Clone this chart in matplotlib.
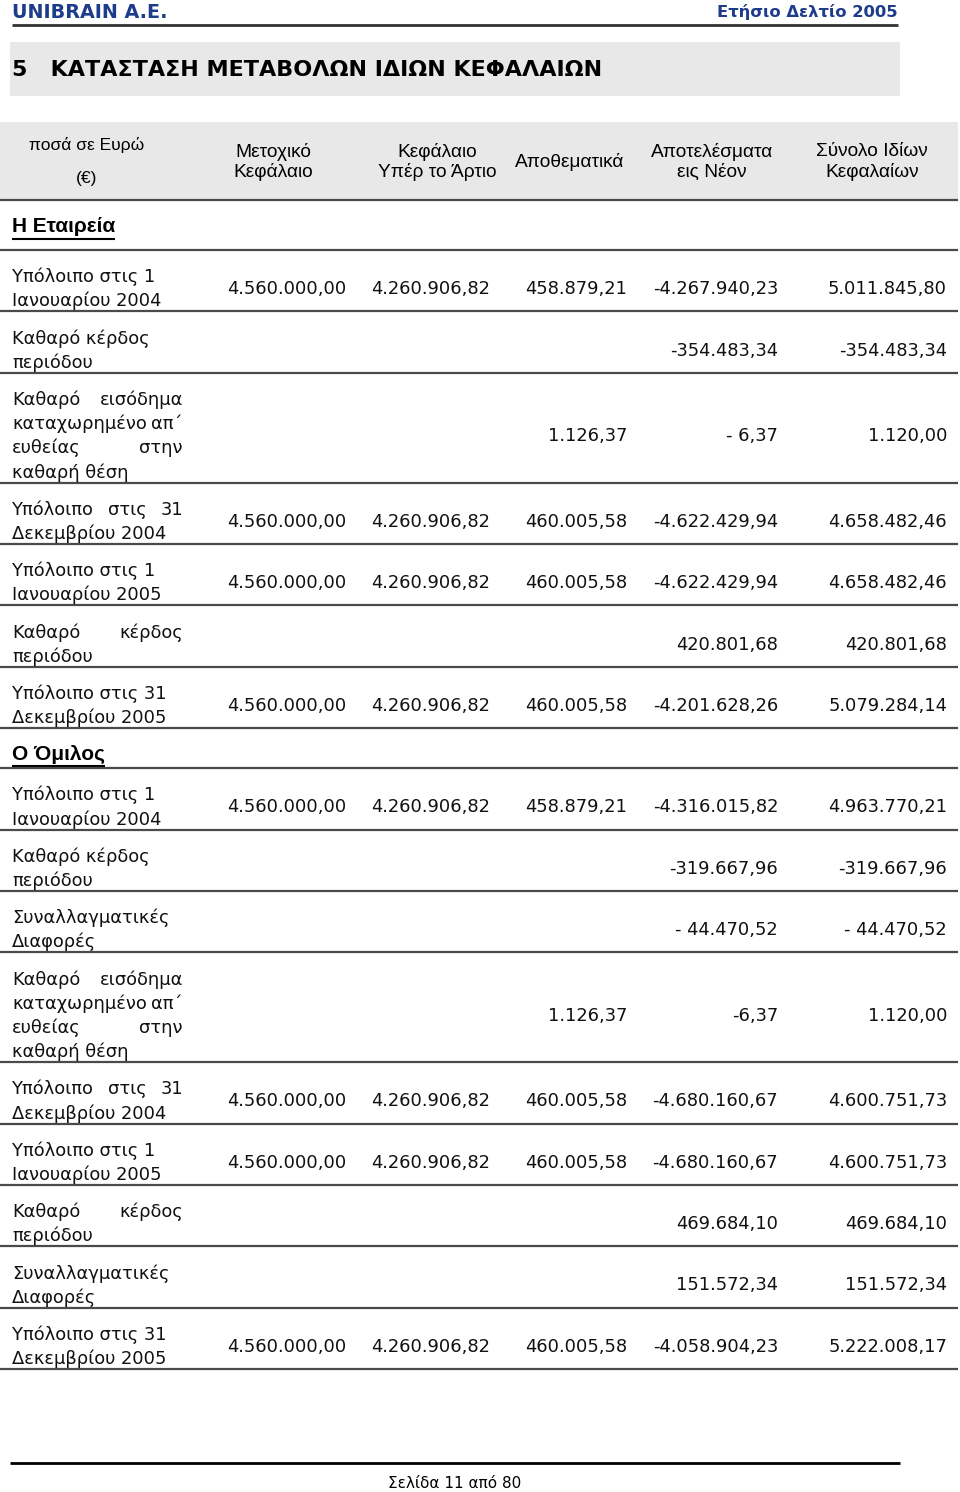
import matplotlib
matplotlib.use("Agg")
import matplotlib.pyplot as plt

# ---------------- data ----------------
col_headers = ["Μετοχικό\nΚεφάλαιο", "Κεφάλαιο\nΥπέρ το Άρτιο", "Αποθεματικά",
               "Αποτελέσματα\nεις Νέον", "Σύνολο Ιδίων\nΚεφαλαίων"]
corner_header = ["ποσά σε Ευρώ", "(€)"]

section_company = "Η Εταιρεία"
section_group = "Ο Όμιλος"

company_labels = [
    ["Υπόλοιπο στις 1", "Ιανουαρίου 2004"],
    ["Καθαρό κέρδος", "περιόδου"],
    ["Καθαρό εισόδημα", "καταχωρημένο απ΄", "ευθείας στην", "καθαρή θέση"],
    ["Υπόλοιπο στις 31", "Δεκεμβρίου 2004"],
    ["Υπόλοιπο στις 1", "Ιανουαρίου 2005"],
    ["Καθαρό κέρδος", "περιόδου"],
    ["Υπόλοιπο στις 31", "Δεκεμβρίου 2005"],
]
company_justify = [False, False, True, True, False, True, False]
company_share_capital = ["4.560.000,00", "", "", "4.560.000,00", "4.560.000,00", "", "4.560.000,00"]
company_share_premium = ["4.260.906,82", "", "", "4.260.906,82", "4.260.906,82", "", "4.260.906,82"]
company_reserves = ["458.879,21", "", "1.126,37", "460.005,58", "460.005,58", "", "460.005,58"]
company_retained = ["-4.267.940,23", "-354.483,34", "- 6,37", "-4.622.429,94", "-4.622.429,94",
                    "420.801,68", "-4.201.628,26"]
company_total = ["5.011.845,80", "-354.483,34", "1.120,00", "4.658.482,46", "4.658.482,46",
                 "420.801,68", "5.079.284,14"]

group_labels = [
    ["Υπόλοιπο στις 1", "Ιανουαρίου 2004"],
    ["Καθαρό κέρδος", "περιόδου"],
    ["Συναλλαγματικές", "Διαφορές"],
    ["Καθαρό εισόδημα", "καταχωρημένο απ΄", "ευθείας στην", "καθαρή θέση"],
    ["Υπόλοιπο στις 31", "Δεκεμβρίου 2004"],
    ["Υπόλοιπο στις 1", "Ιανουαρίου 2005"],
    ["Καθαρό κέρδος", "περιόδου"],
    ["Συναλλαγματικές", "Διαφορές"],
    ["Υπόλοιπο στις 31", "Δεκεμβρίου 2005"],
]
group_justify = [False, False, False, True, True, False, True, False, False]
group_share_capital = ["4.560.000,00", "", "", "", "4.560.000,00", "4.560.000,00", "", "", "4.560.000,00"]
group_share_premium = ["4.260.906,82", "", "", "", "4.260.906,82", "4.260.906,82", "", "", "4.260.906,82"]
group_reserves = ["458.879,21", "", "", "1.126,37", "460.005,58", "460.005,58", "", "", "460.005,58"]
group_retained = ["-4.316.015,82", "-319.667,96", "- 44.470,52", "-6,37", "-4.680.160,67",
                  "-4.680.160,67", "469.684,10", "151.572,34", "-4.058.904,23"]
group_total = ["4.963.770,21", "-319.667,96", "- 44.470,52", "1.120,00", "4.600.751,73",
               "4.600.751,73", "469.684,10", "151.572,34", "5.222.008,17"]

header_left = "UNIBRAIN A.E."
header_right = "Ετήσιο Δελτίο 2005"
title = "5   ΚΑΤΑΣΤΑΣΗ ΜΕΤΑΒΟΛΩΝ ΙΔΙΩΝ ΚΕΦΑΛΑΙΩΝ"
footer = "Σελίδα 11 από 80"

# ---------------- layout ----------------
W, H = 960, 1492
fig = plt.figure(figsize=(W / 100, H / 100), dpi=100)
ax = fig.add_axes([0, 0, 1, 1])
ax.set_xlim(0, W)
ax.set_ylim(H, 0)
ax.axis("off")
renderer = fig.canvas.get_renderer()

BODY = "DejaVu Sans"
BODY_SIZE = 12.9
LINE_C = "#4a4a4a"
TXT_C = "#111111"
BLUE = "#1d3c8c"

col_right = [346, 490, 627, 778, 947]
col_center = [273, 437, 570, 712, 872]
label_x0, label_x1 = 12, 183
line_h = 24.2
pad = 13


def text_width(s, **kw):
    t = ax.text(0, 0, s, **kw)
    w = t.get_window_extent(renderer).width
    t.remove()
    return w


def draw_label_line(s, y, justify):
    kw = dict(fontsize=BODY_SIZE, family=BODY, color=TXT_C, va="center")
    words = s.split()
    if not justify or len(words) < 2:
        ax.text(label_x0, y, s, ha="left", **kw)
        return
    widths = [text_width(w, **kw) for w in words]
    gap = (label_x1 - label_x0 - sum(widths)) / (len(words) - 1)
    x = label_x0
    for w, wd in zip(words, widths):
        ax.text(x, y, w, ha="left", **kw)
        x += wd + gap


def hline(y, x0=0, x1=958, lw=1.6, c=LINE_C):
    ax.plot([x0, x1], [y, y], color=c, lw=lw, solid_capstyle="butt")


def draw_rows(top, labels, justify, cols):
    y = top
    for i, lines in enumerate(labels):
        n = len(lines)
        for k, s in enumerate(lines):
            jl = justify[i] and k < n - 1
            draw_label_line(s, y + 27 + k * line_h, jl)
        ymid = y + 27 + (n - 1) * line_h / 2
        for c, vals in enumerate(cols):
            v = vals[i]
            if v:
                ax.text(col_right[c], ymid, v, ha="right", va="center",
                        fontsize=BODY_SIZE, family=BODY, color=TXT_C)
        y += n * line_h + pad
        hline(y)
    return y


# page header
ax.text(12, 12, header_left, ha="left", va="center", fontsize=13.8, fontweight="bold",
        family="DejaVu Sans", color=BLUE)
ax.text(898, 12, header_right, ha="right", va="center", fontsize=11.8, fontweight="bold",
        family="DejaVu Sans", color=BLUE)
hline(24.5, 12, 898, lw=2.0, c="#333333")

# title band
ax.add_patch(plt.Rectangle((10, 42), 890, 54, color="#e8e8e8", lw=0))
ax.text(12, 70, title, ha="left", va="center", fontsize=16, fontweight="bold",
        family="DejaVu Sans", color="#000000")

# column header band
ax.add_patch(plt.Rectangle((0, 122), 958, 78, color="#e8e8e8", lw=0))
HF = "Liberation Sans"
ax.text(87, 145, corner_header[0], ha="center", va="center", fontsize=12.5, family=HF, color="#000")
ax.text(87, 179, corner_header[1], ha="center", va="center", fontsize=12.5, family=HF, color="#000")
for cx, h in zip(col_center, col_headers):
    ax.text(cx, 162, h, ha="center", va="center", fontsize=13.8, family=HF, color="#000",
            linespacing=1.15)
hline(200)

# company section
t = ax.text(12, 227, section_company, ha="left", va="center", fontsize=15, fontweight="bold",
            family=HF, color="#000")
wd = t.get_window_extent(renderer).width
hline(238.5, 12, 12 + wd, lw=1.5, c="#000")
hline(250)
y_end = draw_rows(250, company_labels, company_justify,
                  [company_share_capital, company_share_premium, company_reserves,
                   company_retained, company_total])

# group section
t = ax.text(12, y_end + 26, section_group, ha="left", va="center", fontsize=15,
            fontweight="bold", family=HF, color="#000")
wd = t.get_window_extent(renderer).width
hline(y_end + 37.5, 12, 12 + wd, lw=1.5, c="#000")
g_top = y_end + 40
hline(g_top)
draw_rows(g_top, group_labels, group_justify,
          [group_share_capital, group_share_premium, group_reserves,
           group_retained, group_total])

# footer
hline(1463, 10, 900, lw=2.0, c="#000")
ax.text(455, 1483, footer, ha="center", va="center", fontsize=11, family="DejaVu Sans",
        color="#000")

fig.savefig("out.png", dpi=100)
